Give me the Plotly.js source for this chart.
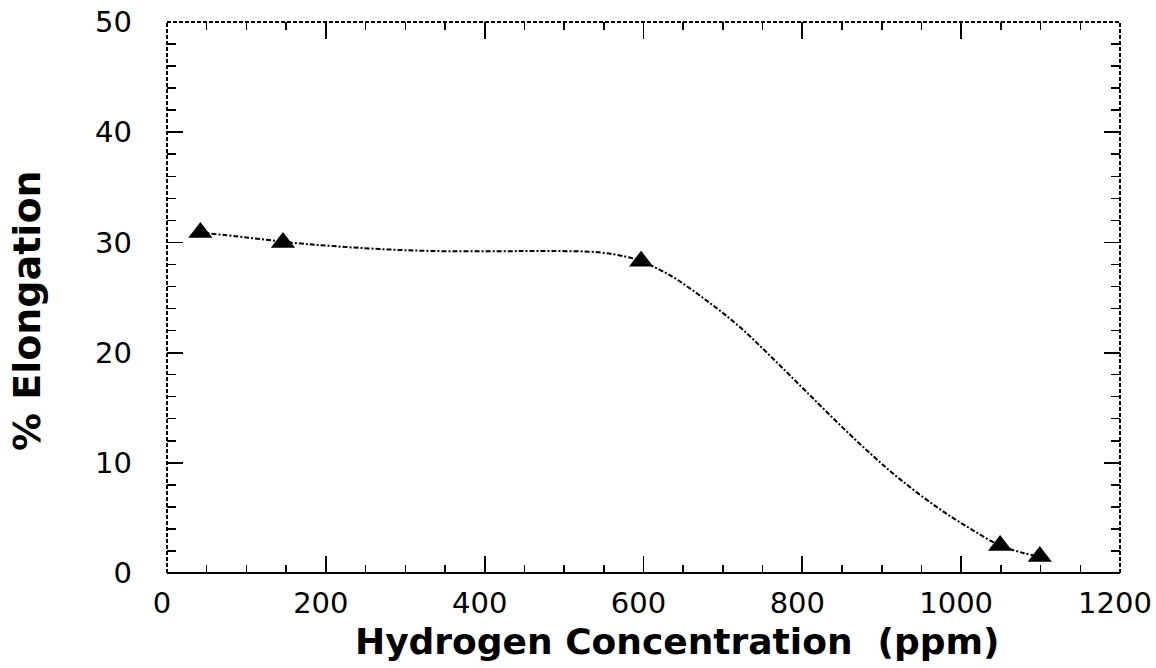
<!DOCTYPE html>
<html>
<head>
<meta charset="utf-8">
<script src="https://cdn.plot.ly/plotly-3.0.1.min.js"></script>
<style>html,body{margin:0;padding:0;background:#fff;}</style>
</head>
<body>
<div id="chart" style="width:1156px;height:668px;"></div>
<script>
// measured data points (triangles)
const hydrogenPpm = [42, 146, 597, 1049, 1099];
const elongationPct = [30.9, 30.0, 28.3, 2.5, 1.5];

// smooth fitted curve
const curvePpm = [42, 100, 158, 208, 267, 334, 418, 481, 544, 578, 597, 636, 678, 720, 761, 803, 845, 887, 924, 971, 1012, 1049, 1079, 1099];
const curvePct = [30.9, 30.45, 29.97, 29.67, 29.4, 29.22, 29.2, 29.22, 29.1, 28.7, 28.3, 26.9, 24.8, 22.4, 19.6, 16.6, 13.6, 10.75, 8.45, 5.9, 4.0, 2.5, 1.8, 1.5];

const xTickVals = [0, 200, 400, 600, 800, 1000, 1200];
const yTickVals = [0, 10, 20, 30, 40, 50];

const xTitle = 'Hydrogen Concentration  (ppm)';
const yTitle = '% Elongation';

const traces = [
  {
    x: curvePpm, y: curvePct, mode: 'lines', hoverinfo: 'skip', showlegend: false,
    line: {shape: 'spline', smoothing: 1, color: '#000', width: 2, dash: '5px,2px,2px,2px'}
  },
  {
    x: hydrogenPpm, y: elongationPct, mode: 'markers', showlegend: false,
    marker: {symbol: 'triangle-up', size: 21, color: '#000'}
  }
];

const tickFont = {family: 'DejaVu Sans', size: 29, color: '#000'};

const layout = {
  width: 1156, height: 668,
  margin: {l: 167, r: 36, t: 22, b: 95},
  paper_bgcolor: '#fff', plot_bgcolor: '#fff',
  showlegend: false,
  xaxis: {
    range: [0, 1200], tickvals: xTickVals, ticktext: xTickVals.map(String),
    ticks: 'inside', ticklen: 17, tickwidth: 1.8, tickcolor: '#000',
    minor: {dtick: 50, tick0: 0, ticks: 'inside', ticklen: 8, tickwidth: 1.5, tickcolor: '#000'},
    showline: false, mirror: 'ticks', showgrid: false, zeroline: false,
    tickfont: tickFont, ticklabelstandoff: 10, ticklabelshift: -5, ticklabeloverflow: 'allow'
  },
  yaxis: {
    range: [0, 50], tickvals: yTickVals, ticktext: yTickVals.map(String),
    ticks: 'inside', ticklen: 16, tickwidth: 1.8, tickcolor: '#000',
    minor: {dtick: 2, tick0: 0, ticks: 'inside', ticklen: 9, tickwidth: 1.5, tickcolor: '#000'},
    showline: false, mirror: 'ticks', showgrid: false, zeroline: false,
    tickfont: tickFont, ticklabelstandoff: 34
  },
  annotations: [
    {text: xTitle, xref: 'paper', yref: 'paper', x: 0.536, y: -0.124, xanchor: 'center', yanchor: 'middle',
     showarrow: false, font: {family: 'DejaVu Sans', size: 36, color: '#000', weight: 'bold'}},
    {text: yTitle, xref: 'paper', yref: 'paper', x: -0.147, y: 0.477, xanchor: 'center', yanchor: 'middle',
     textangle: -90, showarrow: false, font: {family: 'DejaVu Sans', size: 38, color: '#000', weight: 'bold'}}
  ],
  shapes: [
    {type: 'line', xref: 'paper', yref: 'paper', x0: 0, x1: 1, y0: 0, y1: 0, line: {color: '#000', width: 2.2}},
    {type: 'line', xref: 'paper', yref: 'paper', x0: 0, x1: 1, y0: 1, y1: 1, line: {color: '#000', width: 2, dash: '4px,2px'}},
    {type: 'line', xref: 'paper', yref: 'paper', x0: 0, x1: 0, y0: 0, y1: 1, line: {color: '#000', width: 2, dash: '4px,2px'}},
    {type: 'line', xref: 'paper', yref: 'paper', x0: 1, x1: 1, y0: 0, y1: 1, line: {color: '#000', width: 2, dash: '4px,2px'}}
  ]
};

Plotly.newPlot('chart', traces, layout, {displayModeBar: false, staticPlot: true});
</script>
</body>
</html>
